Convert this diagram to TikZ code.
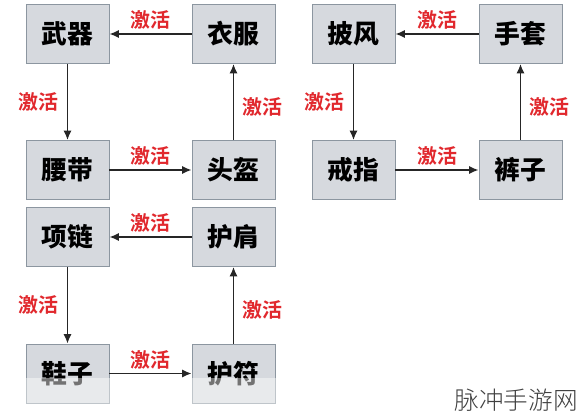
\documentclass[tikz,border=0pt]{standalone}
\usepackage{fontspec}
\setmainfont{Noto Sans CJK SC}
\newfontfamily\cjkbold{Noto Sans CJK SC Black}
\newfontfamily\cjkred{Noto Sans CJK SC Bold}
\newfontfamily\cjklight{Noto Sans CJK SC Light}
\usetikzlibrary{
  arrows.meta,
  positioning,
  calc
}
\definecolor{boxgray}{RGB}{214,217,222}
\definecolor{boxedge}{RGB}{140,150,160}
\definecolor{actred}{RGB}{225,40,45}

\begin{document}
\begin{tikzpicture}[
  x=0.03cm,
  y=-0.03cm,
  >={Latex[length=8pt,width=7pt]},
  gear/.style={
    draw=boxedge,
    line width=0.8pt,
    fill=boxgray,
    minimum width=2.49cm,
    minimum height=1.77cm,
    inner sep=0pt,
    font=\cjkbold\fontsize{22}{22}\selectfont
    },
  act/.style={
    text=actred,
    inner sep=1pt,
    font=\cjkred\fontsize{17}{17}\selectfont
    },
  link/.style={
    ->,
    line width=1.4pt,
    black!85
  }
]
\useasboundingbox (0,0) rectangle (580,417);
\fill[white] (0,0) rectangle (580,417);

% left block
\node[gear] (wuqi) at (67.5,34) {武器};
\node[gear] (yifu) at (233.5,34) {衣服};
\node[gear] (yaodai) at (67.5,170) {腰带};
\node[gear] (toukui) at (233.5,170) {头盔};
\node[gear] (xianglian) at (67.5,237) {项链};
\node[gear] (hujian) at (233.5,237) {护肩};
\node[gear] (xiezi) at (67.5,373.5) {鞋子};
\node[gear] (hufu) at (233.5,373.5) {护符};

% right block
\node[gear] (pifeng) at (353.5,34) {披风};
\node[gear] (shoutao) at (520.5,34) {手套};
\node[gear] (jiezhi) at (353.5,170) {戒指};
\node[gear] (kuzi) at (520.5,170) {裤子};

% connectors
\draw[link] (yifu) -- node[act,above=2pt] {激活} (wuqi);
\draw[link] (wuqi) -- node[act,left=6pt] {激活} (yaodai);
\draw[link] (yaodai) -- node[act,above=2pt] {激活} (toukui);
\draw[link] (toukui) -- node[act,right=6pt,yshift=-4pt] {激活} (yifu);

\draw[link] (hujian) -- node[act,above=2pt] {激活} (xianglian);
\draw[link] (xianglian) -- node[act,left=6pt] {激活} (xiezi);
\draw[link] (xiezi) -- node[act,above=2pt] {激活} (hufu);
\draw[link] (hufu) -- node[act,right=6pt,yshift=-4pt] {激活} (hujian);

\draw[link] (shoutao) -- node[act,above=2pt] {激活} (pifeng);
\draw[link] (pifeng) -- node[act,left=6pt] {激活} (jiezhi);
\draw[link] (jiezhi) -- node[act,above=2pt] {激活} (kuzi);
\draw[link] (kuzi) -- node[act,right=6pt,yshift=-4pt] {激活} (shoutao);

% faded lower edge and watermark
\fill[white,opacity=0.45] (0,378) rectangle (580,417);
\node[anchor=south east,inner sep=0pt,text=black!75,
  font=\cjklight\fontsize{21}{21}\selectfont] (mark) at (578,412) {脉冲手游网};
\end{tikzpicture}
\end{document}
